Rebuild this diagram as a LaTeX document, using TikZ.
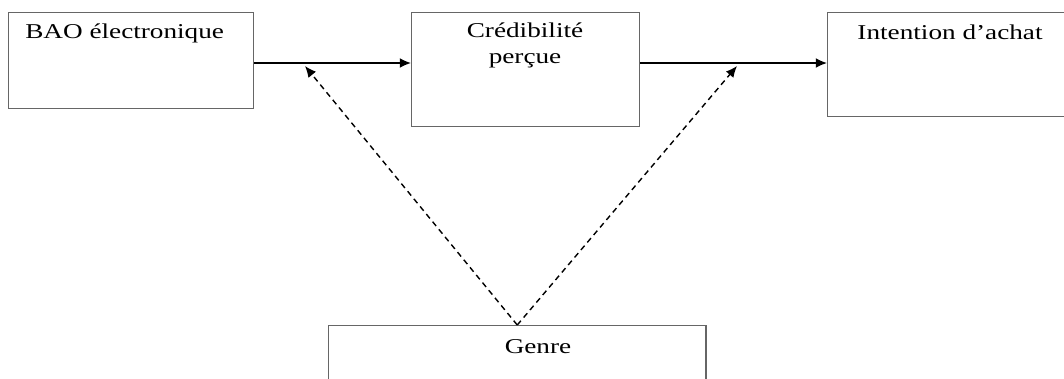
\documentclass[tikz,border=0pt]{standalone}
\usepackage{fontspec}
\newfontfamily\lblfont[FakeStretch=1.29]{Liberation Serif}
\usetikzlibrary{arrows.meta}

\tikzset{
  blok/.style={draw=black!60, line width=1pt, inner sep=0pt},
  txt/.style={font=\lblfont\fontsize{15}{18.4}\selectfont, inner sep=0pt},
  fleche/.style={-{Latex[length=8pt,width=7pt]}, line width=1pt},
  modere/.style={-{Latex[length=8pt,width=7pt]}, line width=1pt, dash pattern=on 4pt off 3pt}
}

\begin{document}
\begin{tikzpicture}[x=0.025cm, y=-0.025cm]
			\useasboundingbox (0,0) rectangle (1064,378);
			
			% Boites
			\node[blok, anchor=north west, minimum width=6.125cm, minimum height=2.4cm] (bao) at (8,12) {};
			\node[blok, anchor=north west, minimum width=5.7cm, minimum height=2.85cm] (cred) at (411,12) {};
			\node[blok, anchor=north west, minimum width=6.075cm, minimum height=2.6cm] (intent) at (827,12) {};
			\node[blok, anchor=north west, minimum width=9.425cm, minimum height=1.625cm] (genre) at (328,325) {};
			
			% Textes
			\node[txt, anchor=base west] (baotxt) at (25,38) {BAO électronique};
			\node[txt, anchor=base, align=center] (credtxt) at (525,63) {Crédibilité\\perçue};
			\node[txt, anchor=base] (intenttxt) at (950,39) {Intention d’achat};
			\node[txt, anchor=base] (genretxt) at (538,353) {Genre};
			
			% Points d'arrivee
			\coordinate (m1) at (305,66);
			\coordinate (m2) at (737,66);
			\coordinate (h) at (0,63);
			
			% Liens
			\draw[fleche] (bao.east |- h) -- (cred.west |- h);
			\draw[fleche] (cred.east |- h) -- (intent.west |- h);
			\draw[modere] (genre.north) -- (m1);
			\draw[modere] (genre.north) -- (m2);
			
		\end{tikzpicture}
\end{document}
